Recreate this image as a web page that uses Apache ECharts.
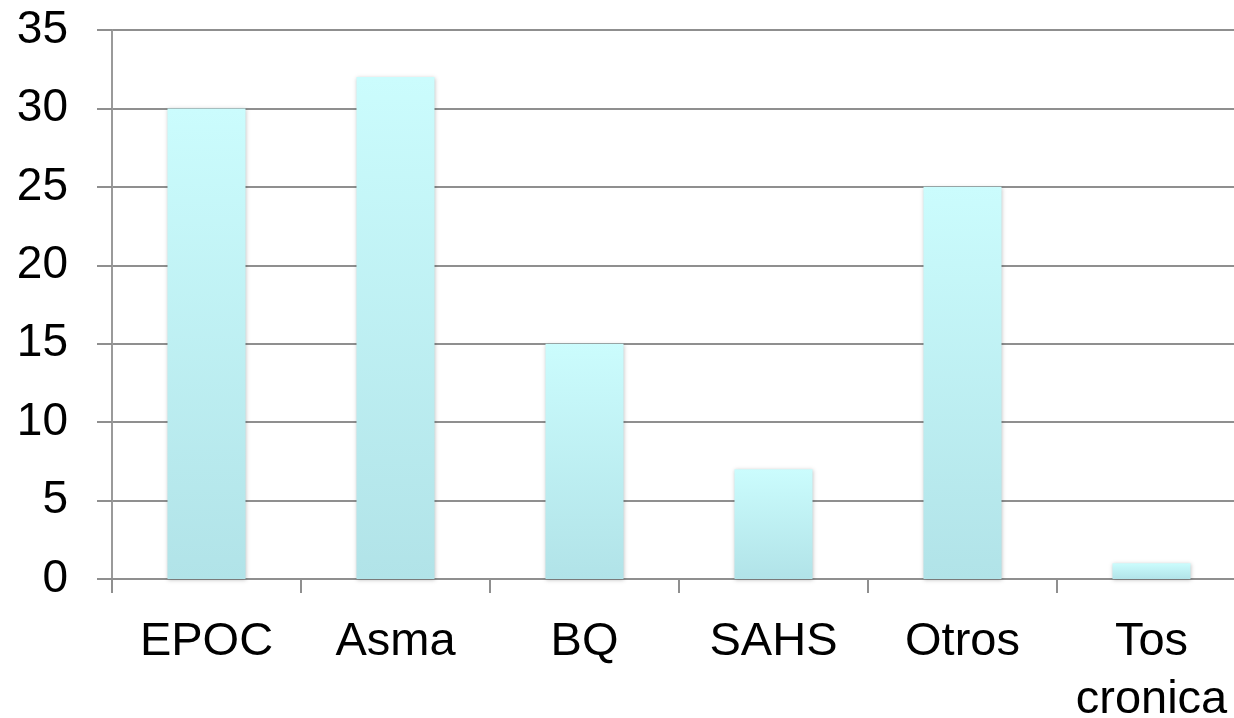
<!DOCTYPE html>
<html>
<head>
<meta charset="utf-8">
<script src="https://cdn.jsdelivr.net/npm/echarts@6/dist/echarts.min.js"></script>
<style>
html,body{margin:0;padding:0;background:#fff;}
#c{width:1234px;height:718px;}
</style>
</head>
<body>
<div id="c"></div>
<script>
const categories = ['EPOC', 'Asma', 'BQ', 'SAHS', 'Otros', 'Tos\ncronica'];
const values = [30, 32, 15, 7, 25, 1];
const yMin = 0, yMax = 35, yStep = 5;

const chart = echarts.init(document.getElementById('c'), null, {renderer: 'canvas'});
chart.setOption({
  animation: false,
  backgroundColor: '#ffffff',
  grid: {left: 112, width: 1134, top: 30, height: 549, containLabel: false, outerBoundsMode: 'none'},
  xAxis: {
    type: 'category',
    data: categories,
    axisLine: {show: true, lineStyle: {color: '#8f8f8f', width: 2}},
    axisTick: {show: true, alignWithLabel: false, length: 14, lineStyle: {color: '#8f8f8f', width: 2}},
    axisLabel: {
      color: '#000', fontFamily: 'Liberation Sans, Arial, sans-serif', fontSize: 47,
      lineHeight: 58, margin: 34, interval: 0
    },
    splitLine: {show: false}
  },
  yAxis: {
    type: 'value',
    min: yMin, max: yMax, interval: yStep,
    axisLine: {show: true, lineStyle: {color: '#9a9a9a', width: 2}},
    axisTick: {show: true, length: 15, lineStyle: {color: '#8f8f8f', width: 2}},
    axisLabel: {color: '#000', fontFamily: 'Liberation Sans, Arial, sans-serif', fontSize: 46, margin: 44},
    splitLine: {show: true, lineStyle: {color: '#8f8f8f', width: 2}}
  },
  series: [{
    type: 'bar',
    data: values,
    barWidth: 78,
    itemStyle: {
      color: new echarts.graphic.LinearGradient(0, 0, 0, 1, [
        {offset: 0, color: '#cbfcfd'},
        {offset: 1, color: '#b1e3e8'}
      ]),
      shadowBlur: 4,
      shadowColor: 'rgba(0,0,0,0.25)',
      shadowOffsetY: 1
    }
  }]
});
</script>
</body>
</html>
